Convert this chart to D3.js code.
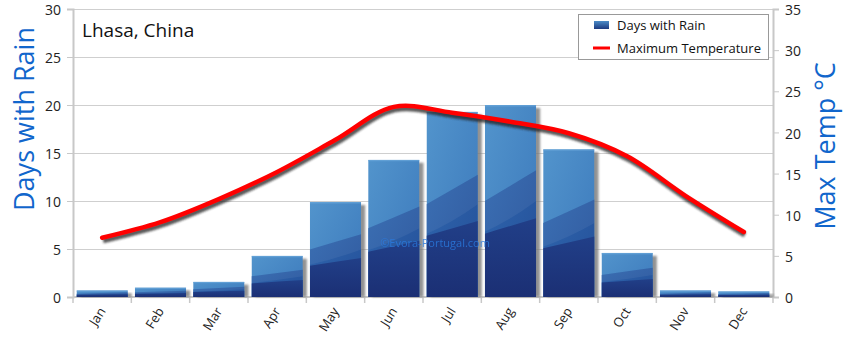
<!DOCTYPE html>
<html><head><meta charset="utf-8">
<script src="https://cdn.jsdelivr.net/npm/d3@7"></script>
<style>body{margin:0;background:#fff}svg{display:block}</style>
</head><body>
<svg id="c" width="850" height="342"></svg>
<script>
const months = ["Jan","Feb","Mar","Apr","May","Jun","Jul","Aug","Sep","Oct","Nov","Dec"];
const rainDays = [0.7,1.0,1.6,4.3,9.9,14.3,19.3,20.0,15.4,4.6,0.7,0.6];
const maxTemp = [7.2,9.1,11.9,15.2,19.1,23.1,22.4,21.3,19.9,17.1,12.3,7.9];
const leftTicks = [0,5,10,15,20,25,30];
const rightTicks = [0,5,10,15,20,25,30,35];
const title = "Lhasa, China";

const svg = d3.select("#c");
const L=73, R=773, T=9, B=297;
const x = d3.scaleBand().domain(months).range([L,R]).paddingInner(0.12).paddingOuter(0.06);
const xb = d3.scaleBand().domain(months).range([L,R]);
const yL = d3.scaleLinear().domain([0,30]).range([B,T]);
const yR = d3.scaleLinear().domain([0,35]).range([B,T]);
const font = "'Century Gothic','Open Sans',Lato,sans-serif";
const blue = "#1166cc";

const defs = svg.append("defs");
function grad(id, stops, x2=0, y2=1){
  const g = defs.append("linearGradient").attr("id",id).attr("x1",0).attr("y1",0).attr("x2",x2).attr("y2",y2);
  stops.forEach(s=>g.append("stop").attr("offset",s[0]).attr("stop-color",s[1]).attr("stop-opacity",s[2]===undefined?1:s[2]));
}
grad("top",[["0%","#5294cc"],["100%","#3b78bb"]],1,1);
grad("mid",[["0%","#2f66ae"],["100%","#244f98"]],1,1);
grad("bot",[["0%","#213f88"],["100%","#1b2f74"]]);
grad("leg",[["0%","#4b8cc8"],["100%","#1c3a80"]]);
const f = defs.append("filter").attr("id","blur").attr("x","-20%").attr("y","-20%").attr("width","140%").attr("height","140%");
f.append("feGaussianBlur").attr("stdDeviation",1.2);

// gridlines
svg.append("g").selectAll("line").data(leftTicks).join("line")
  .attr("x1",L).attr("x2",R).attr("y1",d=>yL(d)+0.5).attr("y2",d=>yL(d)+0.5)
  .attr("stroke","#cfcfcf").attr("stroke-width",1);

// axes
const axL = svg.append("g").attr("transform",`translate(${L},0)`)
  .call(d3.axisLeft(yL).tickValues(leftTicks).tickSize(6).tickPadding(6));
const axR = svg.append("g").attr("transform",`translate(${R},0)`)
  .call(d3.axisRight(yR).tickValues(rightTicks).tickSize(6).tickPadding(6));
const axB = svg.append("g").attr("transform",`translate(0,${B})`)
  .call(d3.axisBottom(xb).tickSize(0).tickFormat(""));
[axL,axR,axB].forEach(a=>{
  a.selectAll("path").attr("stroke","#c8c8c8").attr("stroke-width",2);
  a.selectAll("line").attr("stroke","#c8c8c8");
  a.selectAll("text").attr("font-family",font).attr("font-size",14).attr("fill","#222").attr("dy","0.4em");
});
axB.select("path").attr("d",`M${L},0H${R}`);
// category separator ticks
svg.append("g").selectAll("line").data(d3.range(13)).join("line")
  .attr("x1",i=>L+i*xb.step()).attr("x2",i=>L+i*xb.step())
  .attr("y1",B).attr("y2",B+6).attr("stroke","#c8c8c8").attr("stroke-width",1.5);
// month labels
svg.append("g").selectAll("text").data(months).join("text")
  .attr("transform",d=>`translate(${xb(d)+xb.bandwidth()/2+4},${B+14}) rotate(-58)`)
  .attr("text-anchor","end").attr("font-family",font).attr("font-size",13).attr("fill","#222")
  .text(d=>d);

// bars
const bars = svg.append("g");
bars.selectAll("rect.sh").data(rainDays).join("rect").attr("class","sh")
  .attr("x",(d,i)=>x(months[i])+4).attr("y",d=>yL(d)+3)
  .attr("width",x.bandwidth()).attr("height",d=>B-yL(d)-3)
  .attr("fill","#777").attr("opacity",0.8).attr("filter","url(#blur)");
rainDays.forEach((d,i)=>{
  const bx = x(months[i]), w = x.bandwidth(), by = yL(d), h = B-by;
  const cid = "clip"+i;
  defs.append("clipPath").attr("id",cid).append("rect").attr("x",bx).attr("y",by).attr("width",w).attr("height",h);
  const g = bars.append("g").attr("clip-path",`url(#${cid})`);
  g.append("rect").attr("x",bx).attr("y",by).attr("width",w).attr("height",h).attr("fill","url(#top)");
  g.append("path").attr("fill","url(#mid)")
    .attr("d",`M${bx},${by+h*0.5} Q${bx+w*0.5},${by+h*0.42} ${bx+w},${by+h*0.34} L${bx+w},${B} L${bx},${B} Z`);
  g.append("path").attr("fill","#ffffff").attr("opacity",0.06)
    .attr("d",`M${bx},${by+h*0.5} Q${bx+w*0.5},${by+h*0.42} ${bx+w},${by+h*0.34} L${bx+w},${by+h*0.5} Q${bx+w*0.5},${by+h*0.6} ${bx},${by+h*0.66} Z`);
  g.append("path").attr("fill","url(#bot)")
    .attr("d",`M${bx},${by+h*0.67} Q${bx+w*0.5},${by+h*0.63} ${bx+w},${by+h*0.59} L${bx+w},${B} L${bx},${B} Z`);
  g.append("rect").attr("x",bx).attr("y",by).attr("width",w).attr("height",1.5).attr("fill","#6aa6da").attr("opacity",0.7);
});

// watermark
svg.append("text").attr("x",435).attr("y",247).attr("text-anchor","middle")
  .attr("font-family",font).attr("font-size",11).attr("fill","#2a7be0").attr("opacity",0.8)
  .text("©Evora-Portugal.com");

// temperature line
const line = d3.line().x((d,i)=>xb(months[i])+xb.bandwidth()/2).y(d=>yR(d)).curve(d3.curveCatmullRom.alpha(0.5));
svg.append("path").datum(maxTemp).attr("d",line).attr("fill","none")
  .attr("stroke","#222").attr("stroke-width",5).attr("opacity",0.75)
  .attr("transform","translate(1,3)").attr("filter","url(#blur)");
svg.append("path").datum(maxTemp).attr("d",line).attr("fill","none")
  .attr("stroke","#ff0000").attr("stroke-width",4.5).attr("stroke-linecap","round");

// title
svg.append("text").attr("x",82).attr("y",37).attr("font-family",font).attr("font-size",19).attr("fill","#111").text(title);

// axis titles
svg.append("text").attr("transform","translate(34,119) rotate(-90)").attr("text-anchor","middle")
  .attr("font-family",font).attr("font-size",27).attr("fill",blue).text("Days with Rain");
svg.append("text").attr("transform","translate(835,146) rotate(-90)").attr("text-anchor","middle")
  .attr("font-family",font).attr("font-size",27).attr("fill",blue).text("Max Temp °C");

// legend
const lg = svg.append("g");
lg.append("rect").attr("x",578.5).attr("y",14.5).attr("width",190).attr("height",45)
  .attr("fill","#fff").attr("stroke","#999");
lg.append("rect").attr("x",594).attr("y",21).attr("width",15).attr("height",8).attr("fill","url(#leg)");
lg.append("line").attr("x1",593).attr("x2",610).attr("y1",48).attr("y2",48).attr("stroke","#ff0000").attr("stroke-width",3);
lg.append("text").attr("x",617).attr("y",30).attr("font-family",font).attr("font-size",13).attr("fill","#111").text("Days with Rain");
lg.append("text").attr("x",617).attr("y",53).attr("font-family",font).attr("font-size",13).attr("fill","#111").text("Maximum Temperature");
</script>
</body></html>
